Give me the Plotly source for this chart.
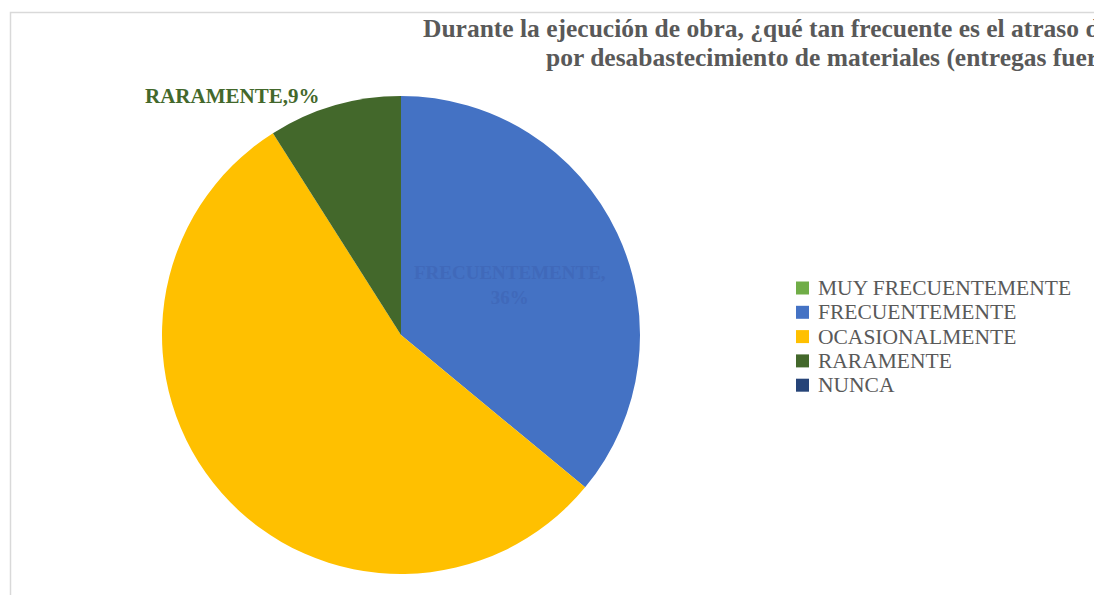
import plotly.graph_objects as go

# categories and shares (%)
categorias = ["MUY FRECUENTEMENTE", "FRECUENTEMENTE", "OCASIONALMENTE", "RARAMENTE", "NUNCA"]
porcentajes = [0, 36, 55, 9, 0]
colores = ["#70AD47", "#4472C4", "#FFC000", "#43682B", "#264478"]

titulo_1 = "Durante la ejecución de obra, ¿qué tan frecuente es el atraso de las actividades"
titulo_2 = "por desabastecimiento de materiales (entregas fuera de plazo)?"

# the page body has an 8px margin, so page pixels are shifted by 8
OFF = 8
W, H = 1094, 587
serif = "Liberation Serif, Times New Roman, serif"


def px_x(p):
    return (p - OFF) / W


def px_y(p):
    return 1 - (p - OFF) / H


fig = go.Figure()
fig.add_trace(go.Pie(
    labels=categorias,
    values=porcentajes,
    marker=dict(colors=colores, line=dict(width=0)),
    sort=False,
    direction="clockwise",
    rotation=0,
    textinfo="none",
    hoverinfo="label+percent",
    showlegend=False,
    domain=dict(x=[px_x(401 - 239), px_x(401 + 239)], y=[px_y(335 + 239), px_y(335 - 239)]),
))

# data labels
idx_rar = categorias.index("RARAMENTE")
idx_frec = categorias.index("FRECUENTEMENTE")
fig.add_annotation(
    text=f"<b>{categorias[idx_rar]},{porcentajes[idx_rar]}%</b>",
    x=px_x(143), y=px_y(96), xref="paper", yref="paper",
    xanchor="left", yanchor="middle", showarrow=False,
    font=dict(family=serif, size=21, color="#43682B"),
)
fig.add_annotation(
    text=f"<b>{categorias[idx_frec]},<br>{porcentajes[idx_frec]}%</b>",
    x=px_x(510), y=px_y(285), xref="paper", yref="paper",
    xanchor="center", yanchor="middle", showarrow=False,
    font=dict(family=serif, size=19, color="#4069BA"),
)

# title, clipped at the right edge like the original
fig.add_annotation(
    text=f"<b>{titulo_1}</b>", x=px_x(421), y=px_y(28), xref="paper", yref="paper",
    xanchor="left", yanchor="middle", showarrow=False,
    font=dict(family=serif, size=25.5, color="#595959"),
)
fig.add_annotation(
    text=f"<b>{titulo_2}</b>", x=px_x(544), y=px_y(58), xref="paper", yref="paper",
    xanchor="left", yanchor="middle", showarrow=False,
    font=dict(family=serif, size=25.5, color="#595959"),
)

# legend (Excel style: tight rows, small squares)
leg_x, leg_y0, leg_dy = 796, 288, 24.3
for i, (cat, col) in enumerate(zip(categorias, colores)):
    yc = leg_y0 + i * leg_dy
    fig.add_shape(
        type="rect", xref="paper", yref="paper",
        x0=px_x(leg_x), x1=px_x(leg_x + 13), y0=px_y(yc + 6.5), y1=px_y(yc - 6.5),
        fillcolor=col, line=dict(width=0),
    )
    fig.add_annotation(
        text=cat, x=px_x(leg_x + 20), y=px_y(yc), xref="paper", yref="paper",
        xanchor="left", yanchor="middle", showarrow=False,
        font=dict(family=serif, size=21.5, color="#595959"),
    )

# chart frame
fig.add_shape(
    type="rect", xref="paper", yref="paper",
    x0=px_x(10.5), x1=px_x(1096.5), y0=-0.05, y1=px_y(12.5),
    line=dict(color="#D9D9D9", width=1.5), fillcolor="rgba(0,0,0,0)", layer="below",
)

fig.update_layout(
    width=W, height=H,
    margin=dict(l=0, r=0, t=0, b=0),
    paper_bgcolor="white",
    plot_bgcolor="white",
    showlegend=False,
)

fig.write_html("out.html")
